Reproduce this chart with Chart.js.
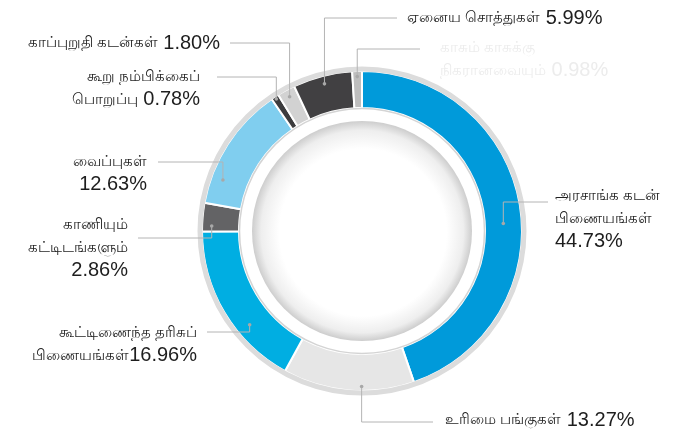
<!DOCTYPE html>
<html>
<head>
<meta charset="utf-8">
<script src="https://cdn.jsdelivr.net/npm/chart.js@4.4.0/dist/chart.umd.min.js"></script>
<style>
  html, body { margin: 0; padding: 0; background: #fff; }
  #wrap { width: 697px; height: 432px; position: relative; }
</style>
</head>
<body>
<div id="wrap"><canvas id="assetsChart"></canvas></div>
<script>
// Sotthukal - pangu (clockwise from top)
const categories = [
    'அரசாங்க கடன்\nபிணையங்கள்',
    'உரிமை பங்குகள்',
    'கூட்டிணைந்த தரிசுப்\nபிணையங்கள்',
    'காணியும்\nகட்டிடங்களும்',
    'வைப்புகள்',
    'கூறு நம்பிக்கைப்\nபொறுப்பு',
    'காப்புறுதி கடன்கள்',
    'ஏனைய சொத்துகள்',
    'காசும் காசுக்கு\nநிகரானவையும்'
];
const values = [44.73, 13.27, 16.96, 2.86, 12.63, 0.78, 1.80, 5.99, 0.98];
const colors = ['#009ada', '#e6e6e6', '#00aee2', '#636365', '#80ceef', '#3c3c3e', '#d2d2d2', '#414042', '#bebebe'];

// label placement: t = position along slice, rf = position across ring
const labelLayout = [
    { t: 0.54, rf: 0.5,  elbowY: 202, endX: 548, x: 555, y: 196, align: 'left',  join: '\n' },
    { t: 0.40, rf: 0.88, elbowY: 422, endX: 433, x: 445, y: 420, align: 'left',  join: ' ' },
    { t: 0.35, rf: 0.63, elbowY: 332, endX: 207, x: 197, y: 333, align: 'right', join: '' },
    { t: 0.2,  rf: 0.74, elbowY: 238, endX: 138, x: 128, y: 225, align: 'right', join: '\n' },
    { t: 0.22, rf: 0.68, elbowY: 162, endX: 158, x: 147, y: 162, align: 'right', join: '\n' },
    { t: 0.5,  rf: 0.93, elbowY: 77,  endX: 217, x: 200, y: 77,  align: 'right', join: ' ' },
    { t: 0.5,  rf: 0.8,  elbowY: 43,  endX: 230, x: 220, y: 43,  align: 'right', join: ' ' },
    { t: 0.5,  rf: 0.78, elbowY: 18,  endX: 397, x: 407, y: 18,  align: 'left',  join: ' ' },
    { t: 0.5,  rf: 0.85, elbowY: 49,  endX: 420, x: 440, y: 48,  align: 'left',  join: ' ', faint: true }
];

const tamilFont = '15px "Liberation Sans", Arial, sans-serif';
const numFont = '20px "Liberation Sans", Arial, sans-serif';

const ringDecor = {
    id: 'ringDecor',
    beforeDatasetsDraw(chart) {
        const arc = chart.getDatasetMeta(0).data[0];
        const { x, y, innerRadius } = arc.getProps(['x', 'y', 'innerRadius'], true);
        const ctx = chart.ctx;
        const rDisc = innerRadius - 13;
        ctx.save();
        const grad = ctx.createRadialGradient(x + 4, y + 6, 0, x, y, rDisc);
        grad.addColorStop(0, '#ffffff');
        grad.addColorStop(0.76, '#ffffff');
        grad.addColorStop(0.92, '#eeeeee');
        grad.addColorStop(1, '#cdcdcd');
        ctx.beginPath();
        ctx.arc(x, y, rDisc, 0, Math.PI * 2);
        ctx.fillStyle = grad;
        ctx.fill();
        ctx.restore();
    },
    afterDatasetsDraw(chart) {
        const meta = chart.getDatasetMeta(0);
        const { x, y, innerRadius, outerRadius } = meta.data[0].getProps(['x', 'y', 'innerRadius', 'outerRadius'], true);
        const ctx = chart.ctx;
        ctx.save();
        // aro externo
        ctx.beginPath();
        ctx.arc(x, y, outerRadius + 2, 0, Math.PI * 2);
        ctx.strokeStyle = '#dcdcdc';
        ctx.lineWidth = 5;
        ctx.stroke();
        // linha interna
        ctx.beginPath();
        ctx.arc(x, y, innerRadius - 0.5, 0, Math.PI * 2);
        ctx.strokeStyle = '#d4d4d4';
        ctx.lineWidth = 1.5;
        ctx.stroke();

        // linhas de chamada e textos
        meta.data.forEach((el, i) => {
            const p = el.getProps(['startAngle', 'endAngle'], true);
            const lay = labelLayout[i];
            const ang = p.startAngle + lay.t * (p.endAngle - p.startAngle);
            const r = innerRadius + lay.rf * (outerRadius - innerRadius);
            const px = x + r * Math.cos(ang);
            const py = y + r * Math.sin(ang);

            ctx.beginPath();
            ctx.moveTo(px, py);
            ctx.lineTo(px, lay.elbowY);
            ctx.lineTo(lay.endX, lay.elbowY);
            ctx.strokeStyle = '#b4b4b4';
            ctx.lineWidth = 1;
            ctx.stroke();
            ctx.beginPath();
            ctx.arc(px, py, 1.8, 0, Math.PI * 2);
            ctx.fillStyle = '#a8a8a8';
            ctx.fill();

            // montar linhas
            const nameLines = categories[i].split('\n').map(s => [{ text: s, font: tamilFont }]);
            const pct = values[i].toFixed(2) + '%';
            if (lay.join === '\n') {
                nameLines.push([{ text: pct, font: numFont }]);
            } else {
                nameLines[nameLines.length - 1].push({ text: lay.join + pct, font: numFont });
            }
            ctx.textBaseline = 'middle';
            ctx.textAlign = 'left';
            ctx.fillStyle = lay.faint ? '#ececec' : '#1e1e1e';
            nameLines.forEach((parts, li) => {
                let w = 0;
                parts.forEach(pt => { ctx.font = pt.font; w += ctx.measureText(pt.text).width; });
                let cx = lay.align === 'right' ? lay.x - w : lay.x;
                const ly = lay.y + li * 22.5;
                parts.forEach(pt => {
                    ctx.font = pt.font;
                    ctx.fillText(pt.text, cx, ly);
                    cx += ctx.measureText(pt.text).width;
                });
            });
        });
        ctx.restore();
    }
};

const ctx = document.getElementById('assetsChart').getContext('2d');
new Chart(ctx, {
    type: 'doughnut',
    data: {
        labels: categories,
        datasets: [{
            data: values,
            backgroundColor: colors,
            borderColor: '#ffffff',
            borderWidth: 2,
            hoverOffset: 0,
            offset: 0
        }]
    },
    options: {
        responsive: true,
        maintainAspectRatio: false,
        animation: false,
        cutout: 123,
        rotation: 0,
        layout: {
            padding: { left: 201, right: 174, top: 70, bottom: 40 }
        },
        plugins: {
            legend: { display: false },
            tooltip: { enabled: false }
        }
    },
    plugins: [ringDecor]
});
</script>
</body>
</html>
